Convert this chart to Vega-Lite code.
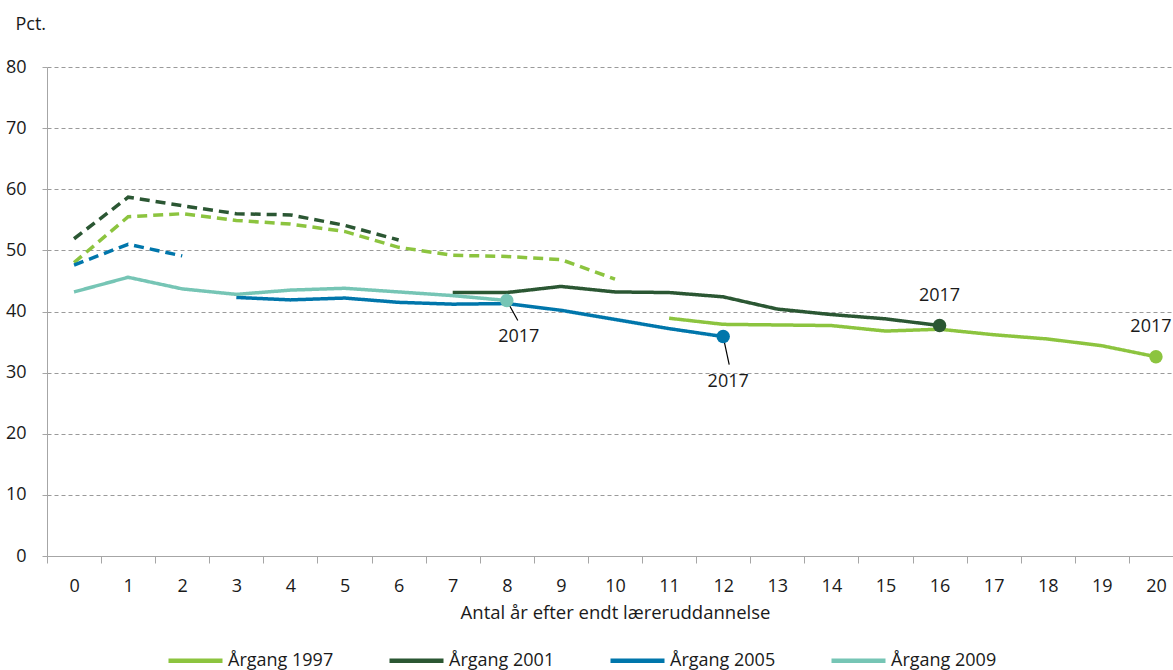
{
  "$schema": "https://vega.github.io/schema/vega-lite/v6.json",
  "width": 1126,
  "height": 489,
  "autosize": {"type": "none"},
  "padding": {"left": 47, "top": 67, "right": 0, "bottom": 114},
  "background": "white",
  "config": {
    "font": "Open Sans",
    "view": {"stroke": null},
    "axis": {"labelFont": "Open Sans", "titleFont": "Open Sans", "labelColor": "#1a1a1a", "titleColor": "#1a1a1a", "titleFontWeight": "normal"}
  },
  "datasets": {
    "series": [
      {"cohort": "Årgang 1997", "seg": "dashed", "year": 0, "value": 48.0},
      {"cohort": "Årgang 1997", "seg": "dashed", "year": 1, "value": 55.5},
      {"cohort": "Årgang 1997", "seg": "dashed", "year": 2, "value": 56.0},
      {"cohort": "Årgang 1997", "seg": "dashed", "year": 3, "value": 54.9},
      {"cohort": "Årgang 1997", "seg": "dashed", "year": 4, "value": 54.3},
      {"cohort": "Årgang 1997", "seg": "dashed", "year": 5, "value": 53.1},
      {"cohort": "Årgang 1997", "seg": "dashed", "year": 6, "value": 50.5},
      {"cohort": "Årgang 1997", "seg": "dashed", "year": 7, "value": 49.2},
      {"cohort": "Årgang 1997", "seg": "dashed", "year": 8, "value": 49.0},
      {"cohort": "Årgang 1997", "seg": "dashed", "year": 9, "value": 48.5},
      {"cohort": "Årgang 1997", "seg": "dashed", "year": 10, "value": 45.3},
      {"cohort": "Årgang 1997", "seg": "solid", "year": 11, "value": 38.9},
      {"cohort": "Årgang 1997", "seg": "solid", "year": 12, "value": 37.9},
      {"cohort": "Årgang 1997", "seg": "solid", "year": 13, "value": 37.8},
      {"cohort": "Årgang 1997", "seg": "solid", "year": 14, "value": 37.7},
      {"cohort": "Årgang 1997", "seg": "solid", "year": 15, "value": 36.8},
      {"cohort": "Årgang 1997", "seg": "solid", "year": 16, "value": 37.1},
      {"cohort": "Årgang 1997", "seg": "solid", "year": 17, "value": 36.2},
      {"cohort": "Årgang 1997", "seg": "solid", "year": 18, "value": 35.5},
      {"cohort": "Årgang 1997", "seg": "solid", "year": 19, "value": 34.4},
      {"cohort": "Årgang 1997", "seg": "solid", "year": 20, "value": 32.6},
      {"cohort": "Årgang 2001", "seg": "dashed", "year": 0, "value": 51.9},
      {"cohort": "Årgang 2001", "seg": "dashed", "year": 1, "value": 58.7},
      {"cohort": "Årgang 2001", "seg": "dashed", "year": 2, "value": 57.3},
      {"cohort": "Årgang 2001", "seg": "dashed", "year": 3, "value": 56.0},
      {"cohort": "Årgang 2001", "seg": "dashed", "year": 4, "value": 55.8},
      {"cohort": "Årgang 2001", "seg": "dashed", "year": 5, "value": 54.1},
      {"cohort": "Årgang 2001", "seg": "dashed", "year": 6, "value": 51.7},
      {"cohort": "Årgang 2001", "seg": "solid", "year": 7, "value": 43.1},
      {"cohort": "Årgang 2001", "seg": "solid", "year": 8, "value": 43.1},
      {"cohort": "Årgang 2001", "seg": "solid", "year": 9, "value": 44.1},
      {"cohort": "Årgang 2001", "seg": "solid", "year": 10, "value": 43.2},
      {"cohort": "Årgang 2001", "seg": "solid", "year": 11, "value": 43.1},
      {"cohort": "Årgang 2001", "seg": "solid", "year": 12, "value": 42.4},
      {"cohort": "Årgang 2001", "seg": "solid", "year": 13, "value": 40.4},
      {"cohort": "Årgang 2001", "seg": "solid", "year": 14, "value": 39.5},
      {"cohort": "Årgang 2001", "seg": "solid", "year": 15, "value": 38.8},
      {"cohort": "Årgang 2001", "seg": "solid", "year": 16, "value": 37.7},
      {"cohort": "Årgang 2005", "seg": "dashed", "year": 0, "value": 47.6},
      {"cohort": "Årgang 2005", "seg": "dashed", "year": 1, "value": 51.0},
      {"cohort": "Årgang 2005", "seg": "dashed", "year": 2, "value": 49.1},
      {"cohort": "Årgang 2005", "seg": "solid", "year": 3, "value": 42.3},
      {"cohort": "Årgang 2005", "seg": "solid", "year": 4, "value": 41.9},
      {"cohort": "Årgang 2005", "seg": "solid", "year": 5, "value": 42.2},
      {"cohort": "Årgang 2005", "seg": "solid", "year": 6, "value": 41.5},
      {"cohort": "Årgang 2005", "seg": "solid", "year": 7, "value": 41.2},
      {"cohort": "Årgang 2005", "seg": "solid", "year": 8, "value": 41.3},
      {"cohort": "Årgang 2005", "seg": "solid", "year": 9, "value": 40.2},
      {"cohort": "Årgang 2005", "seg": "solid", "year": 10, "value": 38.7},
      {"cohort": "Årgang 2005", "seg": "solid", "year": 11, "value": 37.2},
      {"cohort": "Årgang 2005", "seg": "solid", "year": 12, "value": 35.9},
      {"cohort": "Årgang 2009", "seg": "solid", "year": 0, "value": 43.2},
      {"cohort": "Årgang 2009", "seg": "solid", "year": 1, "value": 45.6},
      {"cohort": "Årgang 2009", "seg": "solid", "year": 2, "value": 43.7},
      {"cohort": "Årgang 2009", "seg": "solid", "year": 3, "value": 42.8},
      {"cohort": "Årgang 2009", "seg": "solid", "year": 4, "value": 43.5},
      {"cohort": "Årgang 2009", "seg": "solid", "year": 5, "value": 43.8},
      {"cohort": "Årgang 2009", "seg": "solid", "year": 6, "value": 43.2},
      {"cohort": "Årgang 2009", "seg": "solid", "year": 7, "value": 42.6},
      {"cohort": "Årgang 2009", "seg": "solid", "year": 8, "value": 41.8}
    ]
  },
  "data": {"name": "series"},
  "encoding": {
    "x": {
      "field": "year",
      "type": "ordinal",
      "scale": {"type": "band", "domain": [0,1,2,3,4,5,6,7,8,9,10,11,12,13,14,15,16,17,18,19,20], "range": [0, 1136], "paddingInner": 0, "paddingOuter": 0},
      "axis": {
        "title": "Antal år efter endt læreruddannelse",
        "labelAngle": 0,
        "tickBand": "extent",
        "tickSize": 7,
        "tickColor": "#a6a6a6",
        "domainColor": "#a6a6a6",
        "labelFontSize": 18,
        "labelPadding": 14,
        "titleFontSize": 18.5,
        "titlePadding": 8,
        "grid": false
      }
    },
    "y": {
      "field": "value",
      "type": "quantitative",
      "scale": {"domain": [0, 80], "nice": false},
      "axis": {
        "values": [0, 10, 20, 30, 40, 50, 60, 70, 80],
        "title": "Pct.",
        "titleAngle": 0,
        "titleX": -32,
        "titleY": -38,
        "titleAlign": "left",
        "titleBaseline": "alphabetic",
        "titleFontSize": 18,
        "labelFontSize": 18,
        "labelPadding": 16,
        "tickSize": 5,
        "tickColor": "#a6a6a6",
        "domainColor": "#a6a6a6",
        "grid": true,
        "gridDash": [4, 3],
        "gridColor": "#9a9a9a",
        "gridWidth": 1
      }
    }
  },
  "layer": [
    {
      "mark": {"type": "line", "strokeWidth": 3.5, "strokeCap": "butt"},
      "encoding": {
        "color": {
          "field": "cohort",
          "type": "nominal",
          "scale": {"domain": ["Årgang 1997", "Årgang 2001", "Årgang 2005", "Årgang 2009"], "range": ["#8cc43f", "#2b5733", "#0076ab", "#76c5b5"]},
          "legend": {
            "title": null,
            "orient": "none",
            "legendX": 119,
            "legendY": 564,
            "direction": "horizontal",
            "symbolType": "stroke",
            "symbolSize": 2916,
            "symbolStrokeWidth": 4.5,
            "labelFontSize": 18,
            "labelColor": "#1a1a1a",
            "labelFont": "Open Sans",
            "labelOffset": 3,
            "labelLimit": 300,
            "columnPadding": 46
          }
        },
        "strokeDash": {
          "field": "seg",
          "type": "nominal",
          "scale": {"domain": ["dashed", "solid"], "range": [[10, 6], [1, 0]]},
          "legend": null
        }
      }
    },
    {
      "transform": [
        {"joinaggregate": [{"op": "max", "field": "year", "as": "lastYear"}], "groupby": ["cohort"]},
        {"filter": "datum.year == datum.lastYear && datum.cohort == 'Årgang 2009'"}
      ],
      "mark": {"type": "rule", "color": "#000000", "strokeWidth": 1.2, "x2Offset": 11, "y2Offset": 20},
      "encoding": {"x2": {"field": "year"}, "y2": {"field": "value"}}
    },
    {
      "transform": [
        {"joinaggregate": [{"op": "max", "field": "year", "as": "lastYear"}], "groupby": ["cohort"]},
        {"filter": "datum.year == datum.lastYear && datum.cohort == 'Årgang 2005'"}
      ],
      "mark": {"type": "rule", "color": "#000000", "strokeWidth": 1.2, "x2Offset": 6, "y2Offset": 28},
      "encoding": {"x2": {"field": "year"}, "y2": {"field": "value"}}
    },
    {
      "transform": [
        {"joinaggregate": [{"op": "max", "field": "year", "as": "lastYear"}], "groupby": ["cohort"]},
        {"filter": "datum.year == datum.lastYear"}
      ],
      "mark": {"type": "point", "filled": true, "opacity": 1, "size": 180, "shape": "circle"},
      "encoding": {"color": {"field": "cohort", "type": "nominal"}}
    },
    {
      "transform": [
        {"joinaggregate": [{"op": "max", "field": "year", "as": "lastYear"}], "groupby": ["cohort"]},
        {"filter": "datum.year == datum.lastYear && datum.cohort == 'Årgang 2009'"}
      ],
      "mark": {"type": "text", "text": "2017", "fontSize": 18, "color": "#1a1a1a", "dx": 12, "dy": 37}
    },
    {
      "transform": [
        {"joinaggregate": [{"op": "max", "field": "year", "as": "lastYear"}], "groupby": ["cohort"]},
        {"filter": "datum.year == datum.lastYear && datum.cohort == 'Årgang 2005'"}
      ],
      "mark": {"type": "text", "text": "2017", "fontSize": 18, "color": "#1a1a1a", "dx": 5, "dy": 45}
    },
    {
      "transform": [
        {"joinaggregate": [{"op": "max", "field": "year", "as": "lastYear"}], "groupby": ["cohort"]},
        {"filter": "datum.year == datum.lastYear && datum.cohort == 'Årgang 2001'"}
      ],
      "mark": {"type": "text", "text": "2017", "fontSize": 18, "color": "#1a1a1a", "dx": 0, "dy": -30}
    },
    {
      "transform": [
        {"joinaggregate": [{"op": "max", "field": "year", "as": "lastYear"}], "groupby": ["cohort"]},
        {"filter": "datum.year == datum.lastYear && datum.cohort == 'Årgang 1997'"}
      ],
      "mark": {"type": "text", "text": "2017", "fontSize": 18, "color": "#1a1a1a", "dx": -5, "dy": -30}
    }
  ]
}
